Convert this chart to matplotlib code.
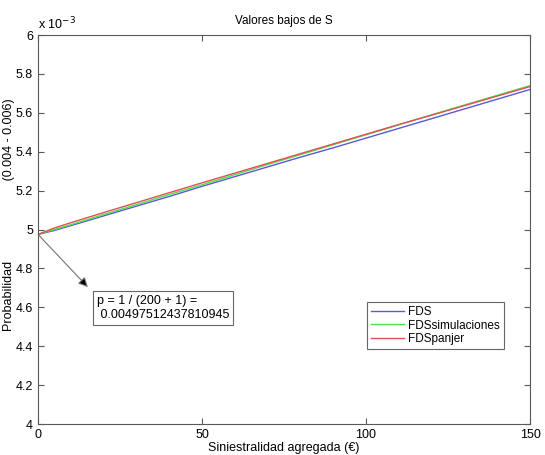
import matplotlib
matplotlib.use('Agg')
import matplotlib.pyplot as plt
from matplotlib.ticker import FuncFormatter

# datos
x = [0, 5, 10, 20, 30, 40, 50, 60, 70, 80, 90, 100, 110, 120, 130, 140, 150]
fds = [4.975, 4.995, 5.020, 5.070, 5.120, 5.170, 5.222, 5.272, 5.322, 5.372,
       5.420, 5.470, 5.520, 5.570, 5.620, 5.670, 5.720]
fds_sim = [4.975, 5.000, 5.025, 5.077, 5.128, 5.180, 5.230, 5.282, 5.334, 5.385,
           5.436, 5.487, 5.538, 5.590, 5.640, 5.690, 5.740]
fds_panjer = [4.975, 5.008, 5.035, 5.087, 5.138, 5.189, 5.240, 5.290, 5.340, 5.390,
              5.440, 5.490, 5.540, 5.588, 5.637, 5.686, 5.735]
escala = 1e-3
y_ticks = [4.0, 4.2, 4.4, 4.6, 4.8, 5.0, 5.2, 5.4, 5.6, 5.8, 6.0]
x_ticks = [0, 50, 100, 150]
p0 = 1 / (200 + 1)

plt.rcParams['font.family'] = ['Liberation Sans', 'DejaVu Sans']
plt.rcParams['font.size'] = 9

fig = plt.figure(figsize=(5.45, 4.55), dpi=100)
ax = fig.add_axes([0.0697, 0.0681, 0.9028, 0.8549])

ax.plot(x, [v * escala for v in fds], color='#5a5ad2', lw=1, label='FDS')
ax.plot(x, [v * escala for v in fds_sim], color='#4ee04e', lw=1, label='FDSsimulaciones')
ax.plot(x, [v * escala for v in fds_panjer], color='#e05050', lw=1, label='FDSpanjer')

ax.set_xlim(0, 150)
ax.set_ylim(4e-3, 6e-3)
ax.set_xticks(x_ticks)
ax.set_yticks([t * escala for t in y_ticks])
ax.yaxis.set_major_formatter(FuncFormatter(lambda v, pos: f'{v / escala:g}'))
ax.tick_params(direction='in', top=True, right=True, length=4, color='0.35', labelsize=9)
for s in ax.spines.values():
    s.set_color('0.35')

ax.text(0.0, 1.008, r'x 10$^{-3}$', transform=ax.transAxes, ha='left', va='bottom', fontsize=9)
ax.set_title('Valores bajos de S', fontsize=8.5, pad=8)
ax.set_xlabel('Siniestralidad agregada (€)', fontsize=9, labelpad=1)
ax.set_ylabel('Probabilidad' + ' ' * 23 + '(0.004 - 0.006)', fontsize=9)
ax.yaxis.set_label_coords(-0.047, 0.537)

# flecha y caja de texto
ax.annotate('', xy=(15.2, 4.704e-3), xytext=(0, p0),
            arrowprops=dict(arrowstyle='-|>', ec='0.45', fc='black', lw=0.8,
                            mutation_scale=14, shrinkA=0, shrinkB=0))
ax.text(18.0, 4.663e-3, 'p = 1 / (200 + 1) =\n 0.00497512437810945',
        ha='left', va='top', fontsize=9,
        bbox=dict(boxstyle='square,pad=0.3', fc='white', ec='0.4', lw=0.8))

leg = ax.legend(loc='lower left', bbox_to_anchor=(0.669, 0.193), borderaxespad=0,
                fancybox=False, framealpha=1, edgecolor='0.4', fontsize=8.5,
                handlelength=2.8, borderpad=0.3, labelspacing=0.15, handletextpad=0.4)
leg.get_frame().set_linewidth(0.8)

fig.savefig('out.png', dpi=100)
